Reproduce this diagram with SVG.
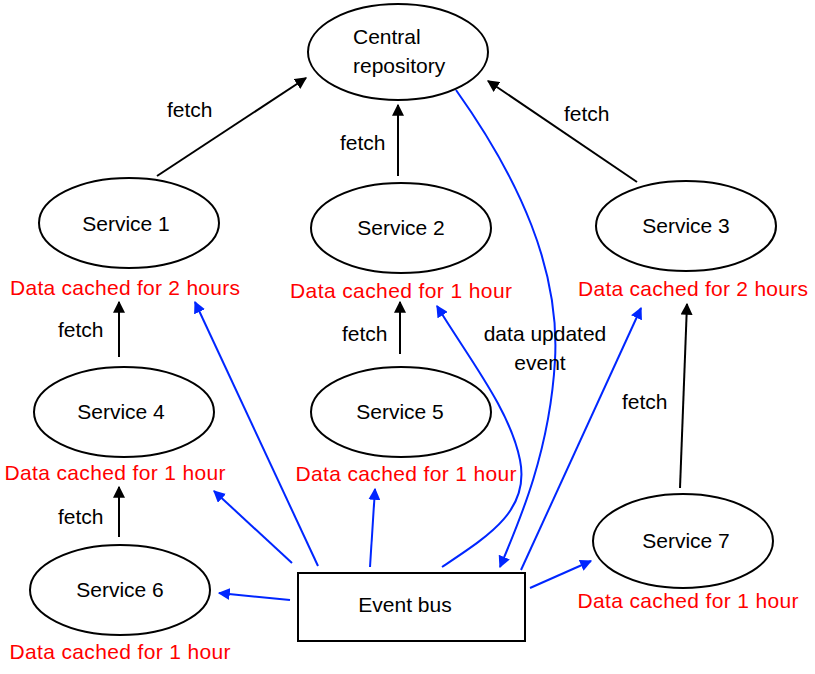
<svg xmlns="http://www.w3.org/2000/svg" width="815" height="674" viewBox="0 0 815 674">
<style>
.n{fill:#fff;stroke:#000;stroke-width:2}
.t{font-family:"Liberation Sans",Arial,sans-serif;font-size:21px;fill:#000}
.r{font-family:"Liberation Sans",Arial,sans-serif;font-size:21px;fill:#ff0000;text-anchor:middle}
.c{text-anchor:middle}
.k{stroke:#000;stroke-width:2;fill:none;marker-end:url(#ak)}
.b{stroke:#0026ff;stroke-width:2;fill:none;marker-end:url(#ab)}
</style>
<defs>
<marker id="ak" viewBox="0 0 10 10" refX="9" refY="5" markerWidth="6" markerHeight="6" orient="auto" markerUnits="strokeWidth"><path d="M0,0 L10,5 L0,10 z" fill="#000"/></marker>
<marker id="ab" viewBox="0 0 10 10" refX="9" refY="5" markerWidth="6" markerHeight="6" orient="auto" markerUnits="strokeWidth"><path d="M0,0 L10,5 L0,10 z" fill="#0026ff"/></marker>
</defs>
<rect width="815" height="674" fill="#fff"/>
<g id="connectors">
<line class="k" x1="157" y1="176" x2="306" y2="78"/>
<line class="k" x1="398" y1="176" x2="398" y2="105"/>
<line class="k" x1="637" y1="182" x2="488" y2="81"/>
<line class="k" x1="119" y1="357" x2="119" y2="302"/>
<line class="k" x1="400" y1="354" x2="400" y2="302"/>
<line class="k" x1="680" y1="488" x2="687" y2="304"/>
<line class="k" x1="119" y1="537" x2="119" y2="487"/>
<line class="b" x1="318" y1="566" x2="195" y2="302"/>
<line class="b" x1="292" y1="563" x2="214" y2="491"/>
<line class="b" x1="370" y1="567" x2="375" y2="489"/>
<line class="b" x1="290" y1="600" x2="219" y2="593"/>
<line class="b" x1="530" y1="588" x2="591" y2="561"/>
<line class="b" x1="521" y1="570" x2="641" y2="308"/>
<path class="b" d="M442,567 C490,535 530,510 520,460 C510,410 470,360 437,306"/>
<path class="b" d="M456,90 C520,180 560,270 555,360 C550,450 520,520 500,567"/>
<text class="t" x="167" y="117">fetch</text>
<text class="t" x="340" y="150">fetch</text>
<text class="t" x="564" y="121">fetch</text>
<text class="t" x="58" y="337">fetch</text>
<text class="t" x="342" y="341">fetch</text>
<text class="t" x="622" y="409">fetch</text>
<text class="t" x="58" y="524">fetch</text>
<text class="t c" x="545" y="341">data updated</text>
<text class="t c" x="540" y="370">event</text>
</g>
<g id="central">
<ellipse class="n" cx="398" cy="52" rx="90" ry="48"/>
<text class="t" x="353" y="44">Central</text>
<text class="t" x="353" y="73">repository</text>
</g>
<g id="service1">
<ellipse class="n" cx="129" cy="223" rx="90" ry="45"/>
<text class="t c" x="126" y="231">Service 1</text>
<text class="r" x="125" y="295" textLength="230">Data cached for 2 hours</text>
</g>
<g id="service2">
<ellipse class="n" cx="401" cy="228" rx="90" ry="45"/>
<text class="t c" x="401" y="235">Service 2</text>
<text class="r" x="401" y="298" textLength="222">Data cached for 1 hour</text>
</g>
<g id="service3">
<ellipse class="n" cx="686" cy="226" rx="90" ry="45"/>
<text class="t c" x="686" y="233">Service 3</text>
<text class="r" x="693" y="296" textLength="230">Data cached for 2 hours</text>
</g>
<g id="service4">
<ellipse class="n" cx="124" cy="412" rx="90" ry="45"/>
<text class="t c" x="121" y="419">Service 4</text>
<text class="r" x="115" y="480" textLength="221">Data cached for 1 hour</text>
</g>
<g id="service5">
<ellipse class="n" cx="401" cy="412" rx="90" ry="45"/>
<text class="t c" x="400" y="419">Service 5</text>
<text class="r" x="406" y="481" textLength="221">Data cached for 1 hour</text>
</g>
<g id="service6">
<ellipse class="n" cx="120" cy="590" rx="90" ry="45"/>
<text class="t c" x="120" y="597">Service 6</text>
<text class="r" x="120" y="659" textLength="221">Data cached for 1 hour</text>
</g>
<g id="service7">
<ellipse class="n" cx="683" cy="541" rx="90" ry="47"/>
<text class="t c" x="686" y="548">Service 7</text>
<text class="r" x="688" y="608" textLength="221">Data cached for 1 hour</text>
</g>
<g id="eventbus">
<rect class="n" x="298" y="573" width="227" height="68"/>
<text class="t c" x="405" y="612">Event bus</text>
</g>
</svg>
